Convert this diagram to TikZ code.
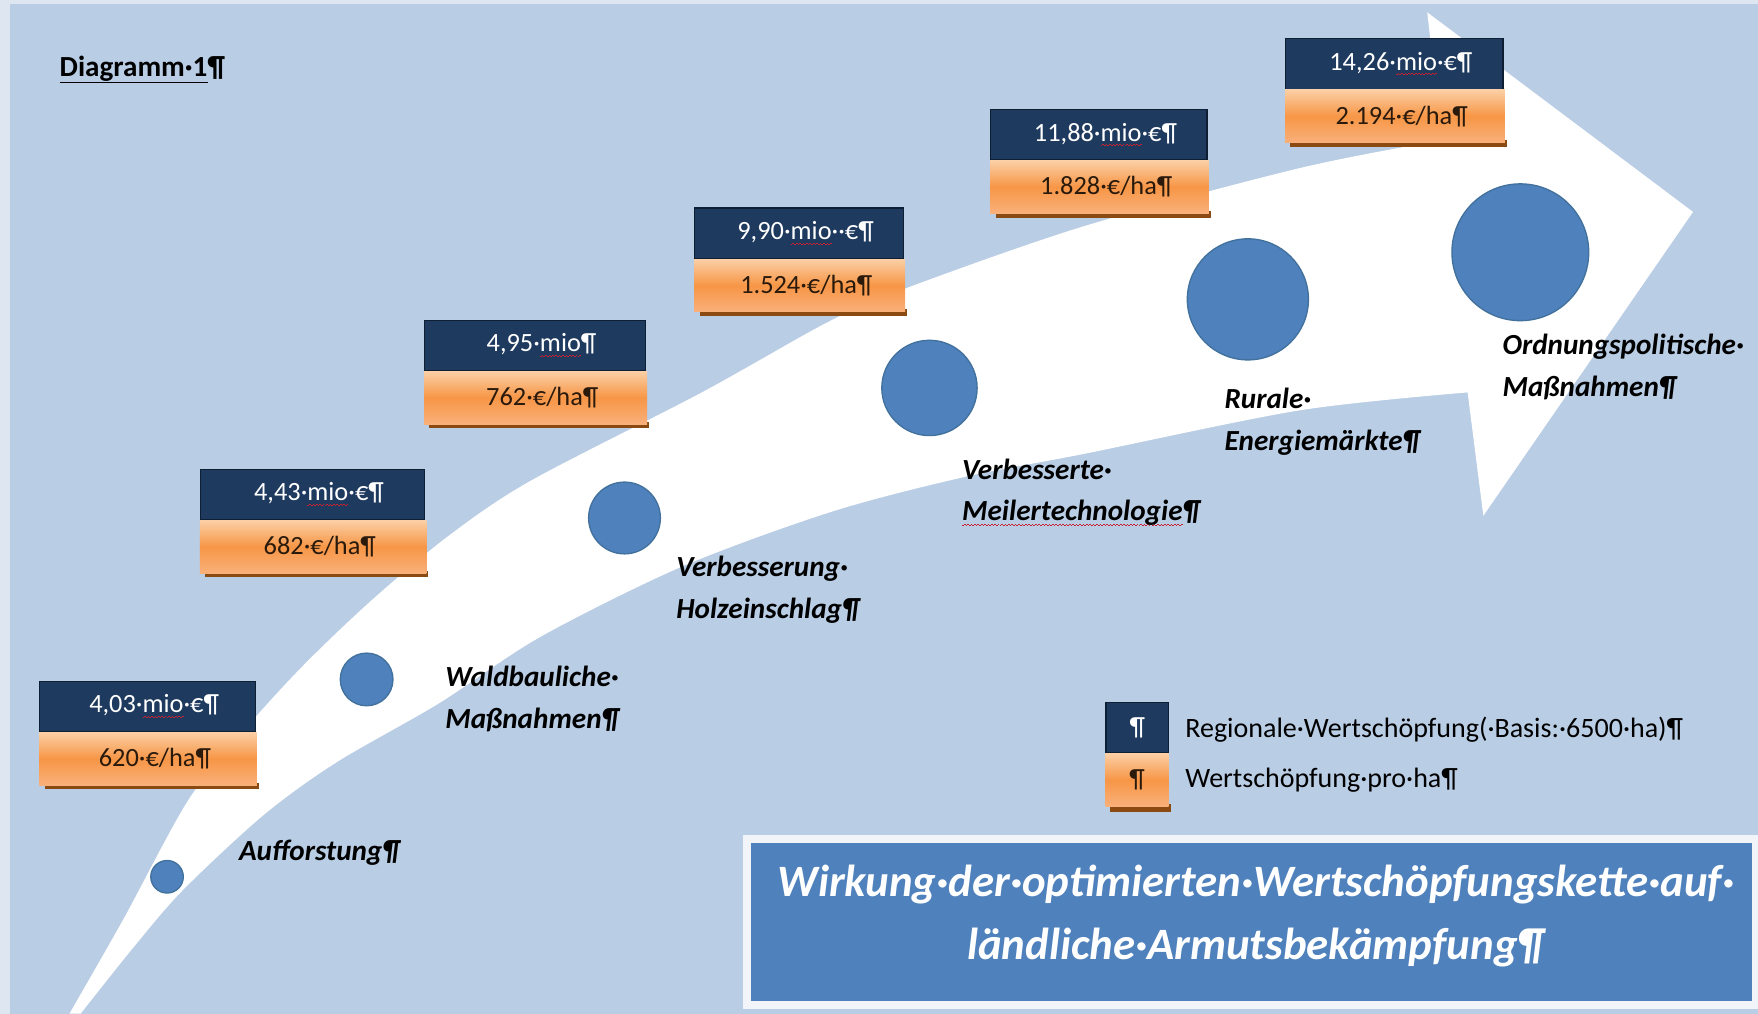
\documentclass[tikz,border=0pt]{standalone}
\usepackage{fontspec}
\setmainfont{Carlito}
\usetikzlibrary{calc}
\definecolor{bgblue}{HTML}{B9CDE5}
\definecolor{edgecol}{HTML}{DDE6F1}
\definecolor{navy}{HTML}{1F3A5F}
\definecolor{navyline}{HTML}{0F1F33}
\definecolor{orangetop}{HTML}{FBCFA5}
\definecolor{orangemid}{HTML}{F79646}
\definecolor{orangebot}{HTML}{F9B07A}
\definecolor{brownline}{HTML}{8A4A12}
\definecolor{dotblue}{HTML}{4F81BD}
\definecolor{dotline}{HTML}{41719C}
\definecolor{titleblue}{HTML}{4F81BD}
\definecolor{framecol}{HTML}{F1F4F9}
\definecolor{spellred}{HTML}{C8202E}
\definecolor{valdark}{HTML}{2A1A0C}
\newcommand\valfont{\fontsize{23.5}{27}\selectfont}
\newcommand\lblfont{\fontsize{26}{37}\selectfont\bfseries\itshape}
\newcommand\legfont{\fontsize{25}{29}\selectfont}
\newcommand\ttlfont{\fontsize{40}{56}\selectfont\bfseries\itshape}
\newcommand\diagfont{\fontsize{26}{30}\selectfont\bfseries}
\newcommand\spl[1]{\setbox0=\hbox{#1}\rlap{\color{spellred}\lower4.5pt\hbox to\wd0{\xleaders\hbox{\rule{1.5pt}{0.9pt}\rule[1.1pt]{1.5pt}{0.9pt}}\hfill}}\box0}
\tikzset{
  navybox/.style={rectangle, fill=navy, draw=navyline, line width=1pt, minimum height=45pt, inner sep=0pt, text=white, font=\valfont},
  orangebox/.style={rectangle, top color=orangetop, bottom color=orangebot, middle color=orangemid, minimum height=47pt, inner sep=0pt, text=valdark, font=\valfont},
  dot/.style={circle, fill=dotblue, draw=dotline, line width=1.2pt, inner sep=0pt},
  lbl/.style={anchor=north west, align=left, inner sep=0pt, font=\lblfont, text=black},
  legtext/.style={anchor=west, inner sep=0pt, font=\legfont, text=black},
  ttltext/.style={align=center, inner sep=0pt, font=\ttlfont, text=white}
}
\newcommand\valbox[6]{%
  \node[navybox, minimum width=#4pt, anchor=north west] (#1top) at (#2,#3) {\hspace*{12pt}#5};
  \fill[brownline] ($(#1top.south west)+(5,51)$) rectangle ($(#1top.south east)+(3,45)$);
  \node[orangebox, minimum width=#4pt+2pt, anchor=north west] (#1bot) at (#1top.south west) {\hspace*{12pt}#6};
}
\begin{document}
\begin{tikzpicture}[x=1pt,y=-1pt]
\useasboundingbox (0,0) rectangle (1568,904);
% background
\fill[edgecol] (0,0) rectangle (1568,904);
\fill[bgblue] (9,4) rectangle (1568,904);
% big white arrow
\fill[white] plot[smooth, tension=0.5] coordinates {(62,904) (110,820) (169,712) (225,643) (274,590) (333,534) (400,478) (473,429) (626,350) (737,288) (803,259) (966,202) (1159,150) (1286,125)}
  -- (1273,11) -- (1510,189) -- (1323,460) -- (1309,350)
  -- plot[smooth, tension=0.5] coordinates {(1309,350) (1159,366) (966,405) (862,425) (743,456) (609,505) (482,568) (392,627) (300,680) (235,727) (163,794) (119,845) (72,904)}
  -- cycle;
% circles
\node[dot, minimum size=29pt] (c1) at (149,782) {};
\node[dot, minimum size=47pt] (c2) at (327,606) {};
\node[dot, minimum size=64pt] (c3) at (557,462) {};
\node[dot, minimum size=85pt] (c4) at (829,346) {};
\node[dot, minimum size=108pt] (c5) at (1113,267) {};
\node[dot, minimum size=122pt] (c6) at (1356,225) {};
% value boxes
\valbox{b1}{35}{607}{192}{4,03·\spl{mio}·€¶}{620·€/ha¶}
\valbox{b2}{178}{418}{200}{4,43·\spl{mio}·€¶}{682·€/ha¶}
\valbox{b3}{378}{285}{197}{4,95·\spl{mio}¶}{762·€/ha¶}
\valbox{b4}{619}{185}{186}{9,90·\spl{mio}··€¶}{1.524·€/ha¶}
\valbox{b5}{883}{97}{193}{11,88·\spl{mio}·€¶}{1.828·€/ha¶}
\valbox{b6}{1146}{34}{194}{14,26·\spl{mio}·€¶}{2.194·€/ha¶}
% step labels
\node[lbl] (l1) at (213,749) {Aufforstung¶};
\node[lbl] (l2) at (397,594) {Waldbauliche·\\Maßnahmen¶};
\node[lbl] (l3) at (603,496) {Verbesserung·\\Holzeinschlag¶};
\node[lbl] (l4) at (858,409) {Verbesserte·\\\spl{Meilertechnologie}¶};
\node[lbl] (l5) at (1092,346) {Rurale·\\Energiemärkte¶};
\node[lbl] (l6) at (1340,298) {Ordnungspolitische·\\Maßnahmen¶};
% legend
\node[navybox, minimum width=56pt, anchor=north west] (legA) at (986,626) {¶};
\fill[brownline] ($(legA.south west)+(4,52)$) rectangle ($(legA.south east)+(1,45)$);
\node[orangebox, minimum width=56pt, anchor=north west] (legB) at (legA.south west) {¶};
\node[legtext] (legAt) at (1057,651) {Regionale·Wertschöpfung(·Basis:·6500·ha)¶};
\node[legtext] (legBt) at (1057,696) {Wertschöpfung·pro·ha¶};
% title
\fill[framecol] (663,745) rectangle (1568,900);
\node[fill=titleblue, minimum width=892pt, minimum height=141pt, anchor=north west, inner sep=0pt] (ttl) at (670,752) {};
\node[ttltext] (ttltxt) at (1120,817) {Wirkung·der·optimierten·Wertschöpfungskette·auf·\\ländliche·Armutsbekämpfung¶};
% heading
\node[anchor=west, inner sep=0pt, font=\diagfont] (diag) at (53,62) {\underline{Diagramm·1}¶};
\end{tikzpicture}
\end{document}
